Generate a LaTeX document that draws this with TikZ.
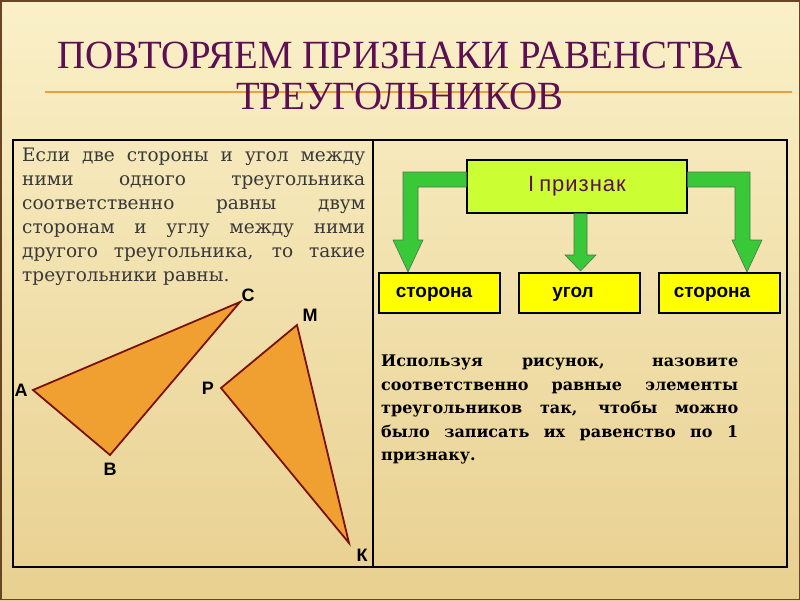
\documentclass[tikz,border=0pt]{standalone}
\usepackage{fontspec}
\setmainfont{Liberation Serif}
\newfontfamily\bodyserif{DejaVu Serif}
\newfontfamily\labsans{Liberation Sans}
\definecolor{bgtop}{HTML}{FAF0C8}
\definecolor{bgbot}{HTML}{E8D090}
\definecolor{titlec}{HTML}{5C0F52}
\definecolor{rulec}{HTML}{E8A040}
\definecolor{limec}{HTML}{CCFF33}
\definecolor{yelc}{HTML}{FFFF00}
\definecolor{arrc}{HTML}{38C838}
\definecolor{triFill}{HTML}{F0A030}
\definecolor{triEdge}{HTML}{7A1010}
\definecolor{bodyc}{HTML}{383838}
\tikzset{
  titletext/.style={anchor=base, text=titlec, inner sep=0pt, font=\fontsize{40}{44}\selectfont},
  frameline/.style={draw=black, line width=1.4pt},
  fatarrow/.style={fill=arrc, draw=black!60!green!40!gray, line width=0.6pt, line join=miter},
  signbox/.style={draw=black, line width=1.2pt, fill=limec, minimum width=220pt, minimum height=53pt, inner sep=0pt, text=titlec, font=\labsans\fontsize{22}{24}\selectfont},
  partbox/.style={draw=black, line width=1.2pt, fill=yelc, minimum width=121pt, minimum height=40pt, inner sep=0pt},
  partlabel/.style={inner sep=0pt, anchor=base, font=\labsans\bfseries\fontsize{19}{22}\selectfont},
  tri/.style={fill=triFill, draw=triEdge, line width=1.8pt, line join=miter},
  vlabel/.style={inner sep=0pt, font=\labsans\bfseries\fontsize{18}{20}\selectfont},
  lefttext/.style={anchor=north west, inner sep=0pt, align=left, text=bodyc, font=\bodyserif\fontsize{18.5}{24}\selectfont},
  righttext/.style={anchor=north west, inner sep=0pt, align=left, text=black, font=\bodyserif\bfseries\fontsize{16}{23.5}\selectfont},
}
\begin{document}
\begin{tikzpicture}[x=1pt,y=-1pt]
\useasboundingbox (0,0) rectangle (800,600);
\shade[top color=bgtop, bottom color=bgbot] (0,0) rectangle (800,600);
\draw[black!45!brown, line width=1.5pt] (0.75,0.75) rectangle (799.25,599.25);
% title
\draw[rulec, line width=1.8pt] (45,92) -- (792,92);
\node[titletext] (t1) at (400,68) {\scalebox{0.97}[1]{ПОВТОРЯЕМ ПРИЗНАКИ РАВЕНСТВА}};
\node[titletext] (t2) at (400,109) {\scalebox{0.97}[1]{ТРЕУГОЛЬНИКОВ}};
% table frame
\draw[frameline] (13,140) rectangle (787,567);
\draw[frameline] (373,140) -- (373,567);
% left text
\node[lefttext] (lt) at (22,148) {%
\makebox[343pt][s]{Если две стороны и угол между}\\
\makebox[343pt][s]{ними одного треугольника}\\
\makebox[343pt][s]{соответственно равны двум}\\
\makebox[343pt][s]{сторонам и углу между ними}\\
\makebox[343pt][s]{другого треугольника, то такие}\\
треугольники равны.};
% triangles
\coordinate (A) at (33,390);
\coordinate (B) at (110,455);
\coordinate (C) at (240,302);
\coordinate (M) at (297,325);
\coordinate (P) at (221,388);
\coordinate (K) at (349,543);
\draw[tri] (A) -- (B) -- (C) -- cycle;
\draw[tri] (P) -- (M) -- (K) -- cycle;
\node[vlabel] (lA) at (21,390) {А};
\node[vlabel] (lB) at (110,469) {В};
\node[vlabel] (lC) at (248,295) {С};
\node[vlabel] (lM) at (310,315) {М};
\node[vlabel] (lP) at (208,388) {Р};
\node[vlabel] (lK) at (362,555) {К};
% diagram
\node[signbox] (sign) at (577,186.5) {I\hspace{5pt}п\kern1pt р\kern1pt и\kern1pt з\kern1pt н\kern1pt а\kern1pt к};
\node[partbox] (s1) at (439.5,293) {};
\node[partbox] (ug) at (579.5,293) {};
\node[partbox] (s2) at (719.5,293) {};
\node[partlabel] (s1t) at (434,297) {сторона};
\node[partlabel] (ugt) at (573,297) {угол};
\node[partlabel] (s2t) at (712,297) {сторона};
% fat arrows
\draw[fatarrow] (sign.west |- 0,172) -- (403,172) -- (403,240) -- (393,240) -- (408,272) -- (423,240) -- (418,240) -- (418,187) -- (sign.west |- 0,187) -- cycle;
\draw[fatarrow] (574,0 |- sign.south) -- (574,255) -- (565,255) -- (580.5,271) -- (596,255) -- (587,255) -- (587,0 |- sign.south) -- cycle;
\draw[fatarrow] (sign.east |- 0,172) -- (750,172) -- (750,240) -- (762,240) -- (747,272) -- (732,240) -- (735,240) -- (735,187) -- (sign.east |- 0,187) -- cycle;
% right text
\node[righttext] (rt) at (381,355) {%
\makebox[357pt][s]{Используя рисунок, назовите}\\
\makebox[357pt][s]{соответственно равные элементы}\\
\makebox[357pt][s]{треугольников так, чтобы можно}\\
\makebox[357pt][s]{было записать их равенство по 1}\\
признаку.};
\end{tikzpicture}
\end{document}
